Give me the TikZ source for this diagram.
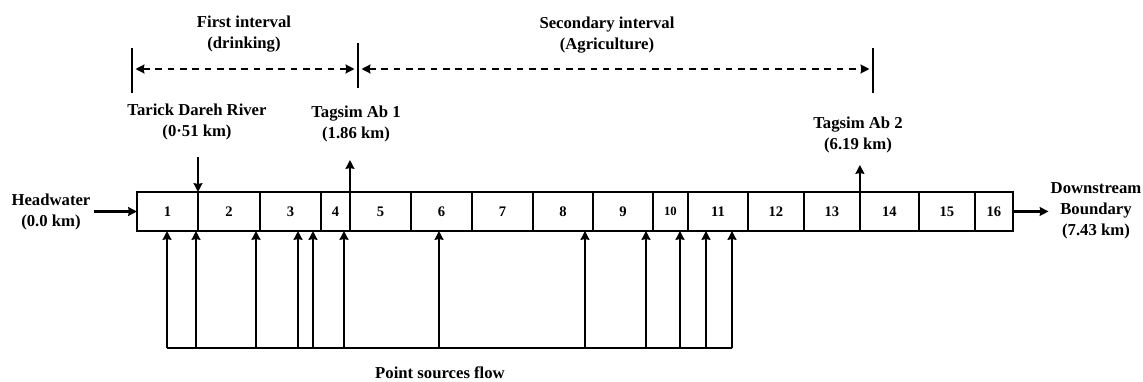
\documentclass[tikz,border=0pt]{standalone}
\usepackage{fontspec}
\setmainfont{Liberation Serif}
\usepackage{tikz}
\usetikzlibrary{positioning,arrows.meta}
\tikzset{>={Stealth[length=5pt,width=5pt,inset=0.4pt]}}
\tikzset{
  cell/.style={draw,line width=0.8pt,rectangle,minimum height=0.78cm,inner sep=0pt,outer sep=0pt,
    font=\fontsize{8.3}{10}\selectfont\bfseries},
  lbl/.style={align=center,inner sep=2pt,font=\fontsize{9.5}{12}\selectfont\bfseries},
  flow/.style={->,line width=1.3pt},
  interval/.style={<->,line width=1.4pt,dash pattern=on 3.8pt off 3.2pt,shorten >=2pt,shorten <=2pt},
}

\begin{document}
\begin{tikzpicture}[xscale=0.2,yscale=-0.2]
      \useasboundingbox (0,0) rectangle (114.3,38.1);
      % reaches
      \node[cell,minimum width=1.22cm,anchor=west] (c1) at (13.7,21.15) {1};
      \node[cell,minimum width=1.24cm,right=0pt of c1] (c2) {2};
      \node[cell,minimum width=1.22cm,right=0pt of c2] (c3) {3};
      \node[cell,minimum width=0.58cm,right=0pt of c3] (c4) {4};
      \node[cell,minimum width=1.22cm,right=0pt of c4] (c5) {5};
      \node[cell,minimum width=1.22cm,right=0pt of c5] (c6) {6};
      \node[cell,minimum width=1.22cm,right=0pt of c6] (c7) {7};
      \node[cell,minimum width=1.20cm,right=0pt of c7] (c8) {8};
      \node[cell,minimum width=1.20cm,right=0pt of c8] (c9) {9};
      \node[cell,minimum width=0.70cm,right=0pt of c9,font=\fontsize{7.2}{9}\selectfont\bfseries] (c10) {10};
      \node[cell,minimum width=1.20cm,right=0pt of c10] (c11) {11};
      \node[cell,minimum width=1.12cm,right=0pt of c11] (c12) {12};
      \node[cell,minimum width=1.12cm,right=0pt of c12] (c13) {13};
      \node[cell,minimum width=1.18cm,right=0pt of c13] (c14) {14};
      \node[cell,minimum width=1.12cm,right=0pt of c14] (c15) {15};
      \node[cell,minimum width=0.76cm,right=0pt of c15] (c16) {16};
      % boundaries
      \node[lbl] (hw) at (5.1,21.2) {Headwater\\(0.0 km)};
      \node[lbl] (ds) at (109.6,21.1) {Downstream\\Boundary\\(7.43 km)};
      \draw[flow] (hw.east |- c1.west) -- (c1.west);
      \draw[flow] (c16.east) -- ([xshift=0.17cm]ds.west |- c16.east);
      % withdrawals and tributary
      \node[lbl] (tdr) at (19.7,12.2) {Tarick Dareh River\\(0·51 km)};
      \node[lbl] (ta1) at (35.6,12.4) {Tagsim Ab 1\\(1.86 km)};
      \node[lbl] (ta2) at (85.8,13.5) {Tagsim Ab 2\\(6.19 km)};
      \draw[flow,<-] (c2.north west) -- ++(0,-3.5);
      \draw[flow] (c5.north west) -- ++(0,-3.2);
      \draw[flow] (c14.north west) -- ++(0,-2.7);
      % intervals
      \node[lbl] (fi) at (24.4,3.4) {First interval\\(drinking)};
      \node[lbl] (si) at (60.7,3.5) {Secondary interval\\(Agriculture)};
      \coordinate (b1) at (13.2,6.9);
      \coordinate (b2) at (35.8,6.9);
      \coordinate (b3) at (87.3,6.9);
      \draw[line width=1.3pt] (13.2,4.8) -- (13.2,9.3);
      \draw[line width=1.3pt] (35.8,4.3) -- (35.8,8.8);
      \draw[line width=1.3pt] (87.3,4.8) -- (87.3,9.3);
      \draw[interval] (b1) -- (b2);
      \draw[interval] (b2) -- (b3);
      % point sources
      \coordinate (s1) at (16.7,34.8);
      \coordinate (s2) at (19.6,34.8);
      \coordinate (s3) at (25.6,34.8);
      \coordinate (s4) at (29.8,34.8);
      \coordinate (s5) at (31.3,34.8);
      \coordinate (s6) at (34.4,34.8);
      \coordinate (s7) at (43.9,34.8);
      \coordinate (s8) at (58.5,34.8);
      \coordinate (s9) at (64.6,34.8);
      \coordinate (s10) at (68.0,34.8);
      \coordinate (s11) at (70.6,34.8);
      \coordinate (s12) at (73.2,34.8);
      \draw[line width=1.3pt] (s1) -- (s12);
      \draw[flow] (s1) -- (s1 |- c1.south);
      \draw[flow] (s2) -- (s2 |- c1.south);
      \draw[flow] (s3) -- (s3 |- c2.south);
      \draw[flow] (s4) -- (s4 |- c3.south);
      \draw[flow] (s5) -- (s5 |- c3.south);
      \draw[flow] (s6) -- (s6 |- c4.south);
      \draw[flow] (s7) -- (s7 |- c6.south);
      \draw[flow] (s8) -- (s8 |- c8.south);
      \draw[flow] (s9) -- (s9 |- c9.south);
      \draw[flow] (s10) -- (s10 |- c10.south);
      \draw[flow] (s11) -- (s11 |- c11.south);
      \draw[flow] (s12) -- (s12 |- c11.south);
      \node[lbl] (psf) at (44.0,37.3) {Point sources flow};
    \end{tikzpicture}
\end{document}
